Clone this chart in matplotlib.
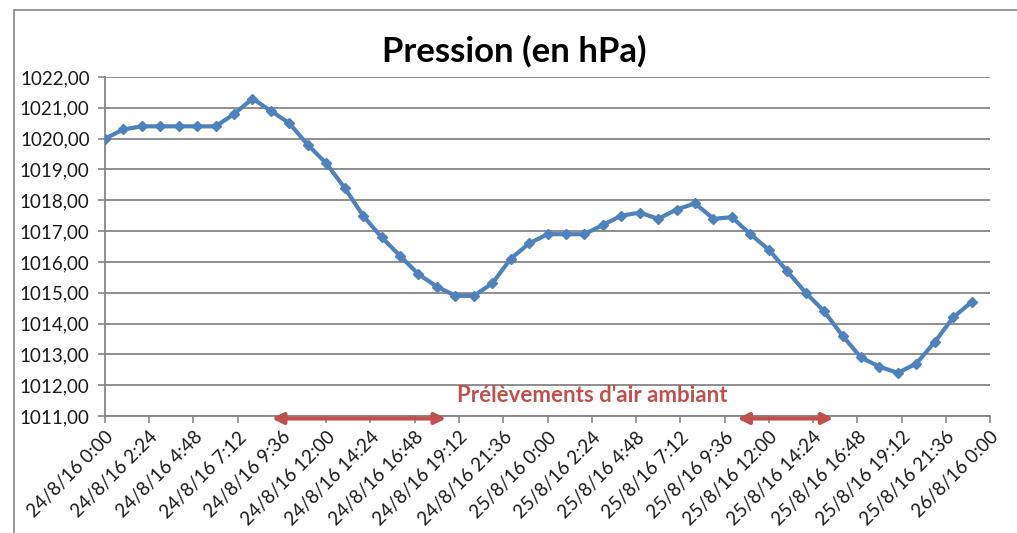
import matplotlib.pyplot as plt

# Heures depuis le 24/8/16 0:00, une mesure par heure
heures = list(range(48))
pression = [1020.0, 1020.3, 1020.4, 1020.4, 1020.4, 1020.4, 1020.4, 1020.8,
            1021.3, 1020.9, 1020.5, 1019.8, 1019.2, 1018.4, 1017.5, 1016.8,
            1016.2, 1015.6, 1015.2, 1014.9, 1014.9, 1015.3, 1016.1, 1016.6,
            1016.9, 1016.9, 1016.9, 1017.2, 1017.5, 1017.6, 1017.4, 1017.7,
            1017.9, 1017.4, 1017.45, 1016.9, 1016.4, 1015.7, 1015.0, 1014.4,
            1013.6, 1012.9, 1012.6, 1012.4, 1012.7, 1013.4, 1014.2, 1014.7]

# Graduations toutes les 2h24
ticks_h = [i * 2.4 for i in range(21)]
tick_labels = ["24/8/16 0:00", "24/8/16 2:24", "24/8/16 4:48", "24/8/16 7:12",
               "24/8/16 9:36", "24/8/16 12:00", "24/8/16 14:24", "24/8/16 16:48",
               "24/8/16 19:12", "24/8/16 21:36", "25/8/16 0:00", "25/8/16 2:24",
               "25/8/16 4:48", "25/8/16 7:12", "25/8/16 9:36", "25/8/16 12:00",
               "25/8/16 14:24", "25/8/16 16:48", "25/8/16 19:12", "25/8/16 21:36",
               "26/8/16 0:00"]
y_ticks = list(range(1011, 1023))

# Périodes de prélèvement (début, fin en heures)
prelevements = [(9.05, 18.5), (34.3, 39.5)]

bleu = "#4F81BD"
rouge = "#C0504D"
gris = "#868686"

plt.rcParams['font.family'] = ['Lato', 'DejaVu Sans']

fig = plt.figure(figsize=(10.17, 5.33), dpi=100)
ax = fig.add_axes([0.1032, 0.2195, 0.8703, 0.636])

# cadre du graphique
cadre = plt.Rectangle((14 / 1017, -0.1), 1.2, 1 - 10 / 533 + 0.1, transform=fig.transFigure,
                      fill=False, edgecolor=gris, linewidth=1.2)
fig.patches.append(cadre)

ax.plot(heures, pression, color=bleu, linewidth=3, marker='D', markersize=5,
        markerfacecolor=bleu, markeredgecolor=bleu, zorder=3)

ax.set_xlim(0, 48)
ax.set_ylim(1011, 1022)
ax.set_xticks(ticks_h)
ax.set_xticklabels(tick_labels, rotation=45, ha='right', rotation_mode='anchor',
                   fontsize=13.5, color='#1a1a1a')
ax.set_yticks(y_ticks)
ax.set_yticklabels([f"{v},00" for v in y_ticks], fontsize=13.5, color='#1a1a1a')
ax.tick_params(axis='both', direction='out', length=5, color=gris, width=1.2)
ax.tick_params(axis='x', pad=4)
ax.tick_params(axis='y', pad=6)

ax.grid(axis='y', color=gris, linewidth=1.3)
ax.set_axisbelow(True)
for s in ['top', 'right']:
    ax.spines[s].set_visible(False)
for s in ['left', 'bottom']:
    ax.spines[s].set_color(gris)
    ax.spines[s].set_linewidth(1.3)

for debut, fin in prelevements:
    ax.annotate('', xy=(debut, 1010.92), xytext=(fin, 1010.92),
                arrowprops=dict(arrowstyle='<|-|>', color=rouge, lw=3,
                                mutation_scale=16, shrinkA=0, shrinkB=0),
                annotation_clip=False, zorder=4)
ax.text(26.4, 1011.68, "Prélèvements d'air ambiant", color=rouge, fontsize=16,
        fontweight='bold', ha='center', va='center')

fig.suptitle("Pression (en hPa)", x=0.506, y=0.935, fontsize=25, fontweight='bold')

fig.savefig("out.png", dpi=100)
